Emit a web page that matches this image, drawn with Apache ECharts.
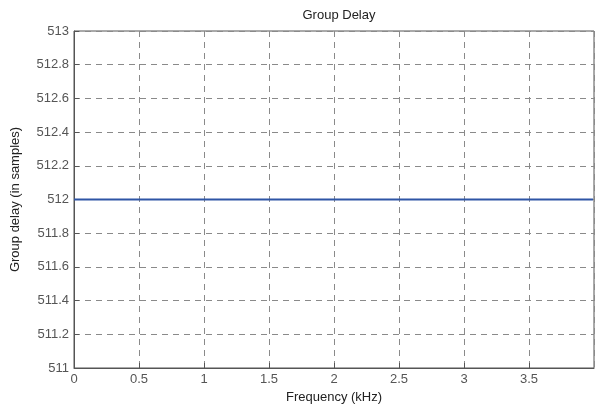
<!DOCTYPE html>
<html><head><meta charset="utf-8">
<script src="https://cdn.jsdelivr.net/npm/echarts@6/dist/echarts.min.js"></script>
<style>html,body{margin:0;padding:0;background:#fff}#c{width:595px;height:408px}</style>
</head><body><div id="c"></div>
<script>
const frequency = [0, 0.5, 1, 1.5, 2, 2.5, 3, 3.5, 3.992];
const groupDelay = [512, 512, 512, 512, 512, 512, 512, 512, 512];
const titleText = 'Group Delay';
const xName = 'Frequency (kHz)';
const yName = 'Group delay (in samples)';

const chart = echarts.init(document.getElementById('c'), null, {renderer: 'canvas'});
const font = 'Liberation Sans, Arial, sans-serif';
const gridLine = {show: true, lineStyle: {color: '#8a8a8a', type: [6, 5], width: 1}};
chart.setOption({
  animation: false,
  title: {text: titleText, left: 334, top: 4, textAlign: 'center',
    textStyle: {fontFamily: font, fontSize: 13, fontWeight: 'normal', color: '#222'}},
  grid: {left: 74, top: 31, right: 1, bottom: 40, show: true, borderColor: '#555', borderWidth: 1,
    outerBoundsMode: 'none', containLabel: false},
  xAxis: {type: 'value', min: 0, max: 4, interval: 0.5,
    name: xName, nameLocation: 'middle', nameGap: 23,
    nameTextStyle: {fontFamily: font, fontSize: 13, color: '#222'},
    axisLine: {show: true, lineStyle: {color: '#555'}},
    axisTick: {show: true, inside: true, length: 5, lineStyle: {color: '#555'}},
    axisLabel: {showMaxLabel: false, fontFamily: font, fontSize: 13, color: '#555', margin: 5},
    splitLine: gridLine},
  yAxis: {type: 'value', min: 511, max: 513, interval: 0.2,
    name: yName, nameLocation: 'middle', nameGap: 52, nameRotate: 90,
    nameTextStyle: {fontFamily: font, fontSize: 13, color: '#222'},
    axisLine: {show: true, lineStyle: {color: '#555'}},
    axisTick: {show: true, inside: true, length: 5, lineStyle: {color: '#555'}},
    axisLabel: {fontFamily: font, fontSize: 13, color: '#555', margin: 5,
      formatter: v => String(Math.round(v * 10) / 10)},
    splitLine: gridLine},
  series: [{type: 'line', data: frequency.map((f, i) => [f, groupDelay[i]]),
    showSymbol: false, lineStyle: {color: '#2e55a5', width: 2}}]
});
</script></body></html>
